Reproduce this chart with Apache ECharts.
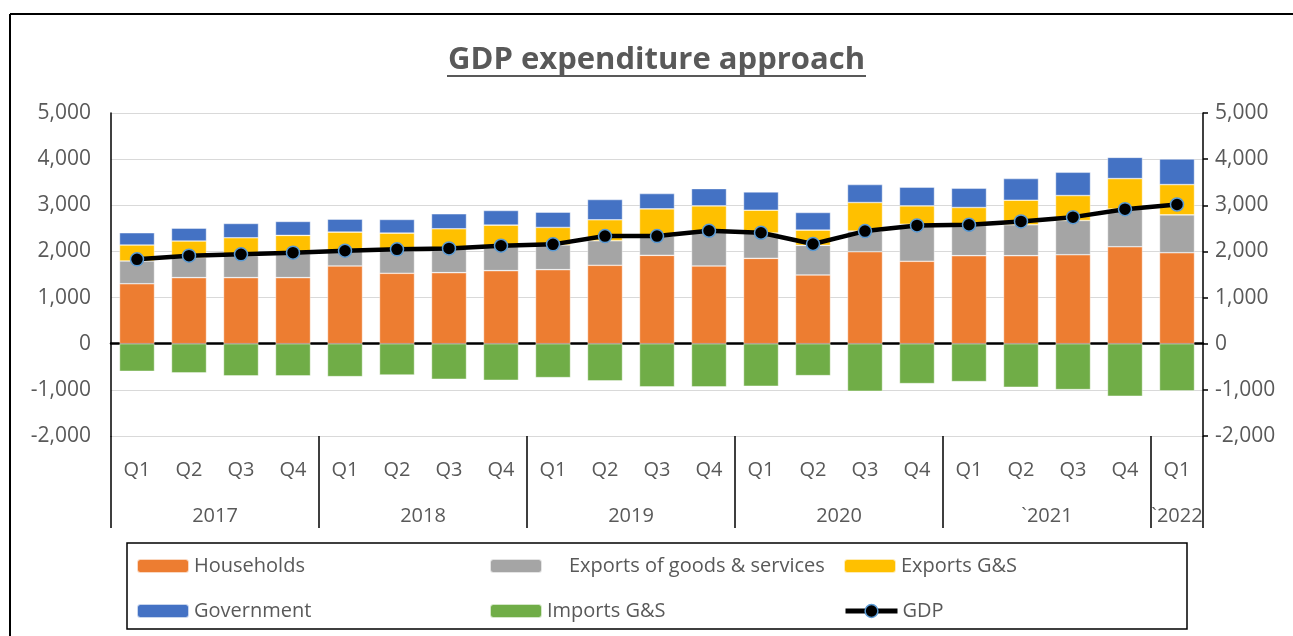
<!DOCTYPE html>
<html>
<head>
<meta charset="utf-8">
<script src="https://cdn.jsdelivr.net/npm/echarts@6/dist/echarts.min.js"></script>
<style>html,body{margin:0;padding:0;background:#fff;}#c{width:1293px;height:636px;}</style>
</head>
<body>
<div id="c"></div>
<script>
const quarters = ['Q1','Q2','Q3','Q4','Q1','Q2','Q3','Q4','Q1','Q2','Q3','Q4','Q1','Q2','Q3','Q4','Q1','Q2','Q3','Q4','Q1'];
const years = ['2017','2018','2019','2020','`2021','`2022'];
const yearSpans = [4,4,4,4,4,1];
const households = [1300,1432,1432,1432,1685,1526,1540,1584,1605,1699,1915,1685,1850,1490,1994,1786,1908,1908,1929,2102,1972];
const exportsGoodsServices = [493,438,478,518,325,504,520,526,535,532,415,755,550,642,446,804,682,669,742,814,821];
const exportsGS = [345,355,386,397,409,367,431,460,380,454,593,548,494,330,620,398,362,533,540,663,656];
const government = [266,280,310,303,281,296,324,317,331,440,331,374,396,382,389,403,417,469,504,460,553];
const importsGS = [-598,-633,-698,-698,-713,-677,-770,-792,-734,-806,-935,-935,-921,-691,-1030,-864,-821,-943,-994,-1138,-1022];
const gdp = [1829,1908,1937,1973,2015,2045,2066,2124,2153,2333,2333,2448,2404,2160,2441,2564,2577,2650,2743,2916,3017];
const yTicks = {min:-2000, max:5000, interval:1000};

const FONT = 'Open Sans';
const GREY = '#595959';

// year label positions
const yearLabelAt = new Array(quarters.length).fill('');
const yearLabelWide = new Array(quarters.length).fill(false);
const yearBoundary = {};
let s = 0;
years.forEach((y, g) => {
  const n = yearSpans[g];
  yearBoundary[s] = true;
  const idx = n === 4 ? s + 1 : s;
  yearLabelAt[idx] = y;
  yearLabelWide[idx] = n === 4;
  s += n;
});
yearBoundary[s] = true;

const chart = echarts.init(document.getElementById('c'), null, {renderer:'canvas'});
const fmt = v => v.toLocaleString('en-US');
const barCommon = {
  type:'bar', stack:'gdp', barWidth:35, xAxisIndex:0, yAxisIndex:0,
  itemStyle:{borderColor:'rgba(255,255,255,0.7)', borderWidth:0.6}
};
function legendAt(name, left, top, extra) {
  return Object.assign({
    data:[name], left:left, top:top, padding:0, itemWidth:52, itemHeight:14, itemGap:0,
    selectedMode:false, textStyle:{fontFamily:FONT, fontSize:20, color:GREY}
  }, extra || {});
}
const option = {
  animation:false,
  backgroundColor:'#fff',
  textStyle:{fontFamily:FONT},
  title:{
    text:'GDP expenditure approach', left:443, top:40,
    textStyle:{fontFamily:FONT, fontSize:31, fontWeight:'bold', color:GREY}
  },
  legend:[
    legendAt('Households', 136, 556),
    legendAt('Exports of goods & services', 489, 556, {textStyle:{fontFamily:FONT, fontSize:20, color:GREY, padding:[0,0,0,22]}}),
    legendAt('Exports G&S', 843, 556),
    legendAt('Government', 136, 601),
    legendAt('Imports G&S', 489, 601),
    legendAt('GDP', 843, 601, {
      itemHeight:16,
      lineStyle:{width:5, color:'#000'},
      itemStyle:{color:'#000', borderColor:'#5B9BD5', borderWidth:1.5}
    })
  ],
  grid:{left:111, right:90, top:113, bottom:200, containLabel:false},
  xAxis:[
    {
      type:'category', data:quarters, position:'bottom', gridIndex:0,
      axisLine:{show:false, onZero:false}, axisTick:{show:false},
      axisLabel:{fontFamily:FONT, fontSize:20, color:GREY, margin:24, interval:0}
    },
    {
      type:'category', data:quarters, position:'bottom', gridIndex:0,
      axisLine:{show:false, onZero:false},
      axisTick:{show:true, length:92, interval:(i) => !!yearBoundary[i], lineStyle:{color:'#000', width:1.5}},
      axisLabel:{
        interval:0, margin:70, fontFamily:FONT, fontSize:20, color:GREY,
        formatter:(v, i) => yearLabelAt[i] ? (yearLabelWide[i] ? '{w|' + yearLabelAt[i] + '}' : '{n|' + yearLabelAt[i] + '}') : '',
        rich:{
          w:{fontFamily:FONT, fontSize:20, color:GREY, padding:[0,0,0,52]},
          n:{fontFamily:FONT, fontSize:20, color:GREY}
        }
      }
    },
    {
      type:'category', data:quarters, gridIndex:0,
      axisLine:{show:true, onZero:true, onZeroAxisIndex:0, lineStyle:{color:'#000', width:2.5}},
      axisTick:{show:false}, axisLabel:{show:false}
    }
  ],
  yAxis:[
    {
      type:'value', min:yTicks.min, max:yTicks.max, interval:yTicks.interval,
      axisLine:{show:true, lineStyle:{color:'#000', width:1.5}},
      axisTick:{show:false},
      splitLine:{show:true, lineStyle:{color:'#D9D9D9', width:1.2}},
      axisLabel:{fontFamily:FONT, fontSize:21, color:GREY, margin:20, formatter:fmt}
    },
    {
      type:'value', min:yTicks.min, max:yTicks.max, interval:yTicks.interval, position:'right',
      axisLine:{show:true, lineStyle:{color:'#000', width:1.5}},
      axisTick:{show:true, length:5, lineStyle:{color:'#000', width:1.5}},
      splitLine:{show:false},
      axisLabel:{fontFamily:FONT, fontSize:21, color:GREY, margin:12, formatter:fmt}
    }
  ],
  series:[
    Object.assign({}, barCommon, {name:'Households', data:households, color:'#ED7D31'}),
    Object.assign({}, barCommon, {name:'Exports of goods & services', data:exportsGoodsServices, color:'#A5A5A5'}),
    Object.assign({}, barCommon, {name:'Exports G&S', data:exportsGS, color:'#FFC000'}),
    Object.assign({}, barCommon, {name:'Government', data:government, color:'#4472C4'}),
    Object.assign({}, barCommon, {name:'Imports G&S', data:importsGS, color:'#70AD47'}),
    {
      name:'GDP', type:'line', data:gdp, xAxisIndex:0, yAxisIndex:1, z:10,
      color:'#000',
      lineStyle:{color:'#000', width:4.5},
      symbol:'circle', symbolSize:13,
      itemStyle:{color:'#000', borderColor:'#5B9BD5', borderWidth:1.5}
    }
  ],
  graphic:[
    {type:'line', shape:{x1:10, y1:14, x2:1293, y2:14}, style:{stroke:'#000', lineWidth:2}, silent:true},
    {type:'line', shape:{x1:10, y1:14, x2:10, y2:636}, style:{stroke:'#000', lineWidth:2}, silent:true},
    {type:'line', shape:{x1:447, y1:76, x2:866, y2:76}, style:{stroke:GREY, lineWidth:2}, silent:true},
    {type:'rect', shape:{x:127, y:543, width:1060, height:86}, style:{fill:'none', stroke:'#000', lineWidth:1.5}, silent:true, z:-1}
  ]
};
chart.setOption(option);
</script>
</body>
</html>
